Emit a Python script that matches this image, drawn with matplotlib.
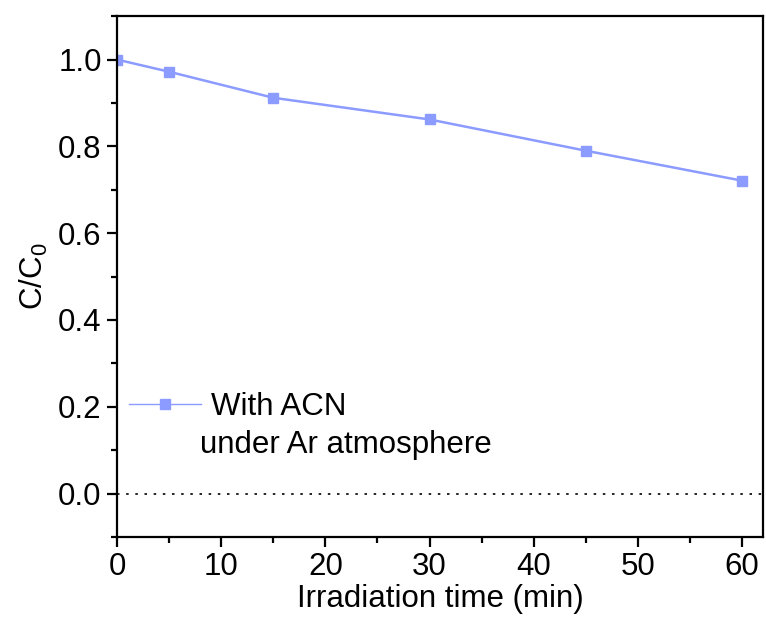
import matplotlib
matplotlib.use("Agg")
import matplotlib.pyplot as plt
from matplotlib.ticker import MultipleLocator, FormatStrFormatter

plt.rcParams['font.family'] = ['Liberation Sans', 'DejaVu Sans']
plt.rcParams['mathtext.fontset'] = 'custom'
plt.rcParams['mathtext.rm'] = 'Liberation Sans'
plt.rcParams['mathtext.it'] = 'Liberation Sans'

time_min = [0, 5, 15, 30, 45, 60]
c_ratio = [1.0, 0.972, 0.912, 0.862, 0.790, 0.721]
series_label = "With ACN"
series_label2 = "under Ar atmosphere"
color = "#8C9BFF"
FS = 22.5

fig = plt.figure(figsize=(7.66, 6.22), dpi=100)
ax = fig.add_axes([0.1527, 0.1367, 0.996 - 0.1527, 0.974 - 0.1367])

ax.plot(time_min, c_ratio, color=color, lw=1.8, marker='s', ms=7,
        mec=color, mfc=color, label=series_label)
ax.axhline(0, color='black', ls=(0, (1.5, 4)), lw=1.2)

ax.set_xlim(0, 62)
ax.set_ylim(-0.1, 1.1)
ax.xaxis.set_major_locator(MultipleLocator(10))
ax.xaxis.set_minor_locator(MultipleLocator(5))
ax.yaxis.set_major_locator(MultipleLocator(0.2))
ax.yaxis.set_minor_locator(MultipleLocator(0.1))
ax.yaxis.set_major_formatter(FormatStrFormatter('%.1f'))

for s in ax.spines.values():
    s.set_linewidth(1.6)
ax.tick_params(which='major', direction='out', length=7, width=1.6, labelsize=FS, pad=4)
ax.tick_params(which='minor', direction='out', length=4, width=1.6)

ax.set_xlabel("Irradiation time (min)", fontsize=FS, labelpad=1)
ax.set_ylabel("C/C$_0$", fontsize=FS, labelpad=6)

leg = ax.legend(loc='center left', bbox_to_anchor=(0.0, 0.25), frameon=False,
                fontsize=FS, handlelength=2.3, handletextpad=0.3,
                borderaxespad=0.0)
for h in leg.legend_handles:
    h.set_linewidth(1.0)
ax.text(0.128, 0.177, series_label2, transform=ax.transAxes, fontsize=FS,
        va='center', ha='left')

fig.savefig("out.png", dpi=100)
